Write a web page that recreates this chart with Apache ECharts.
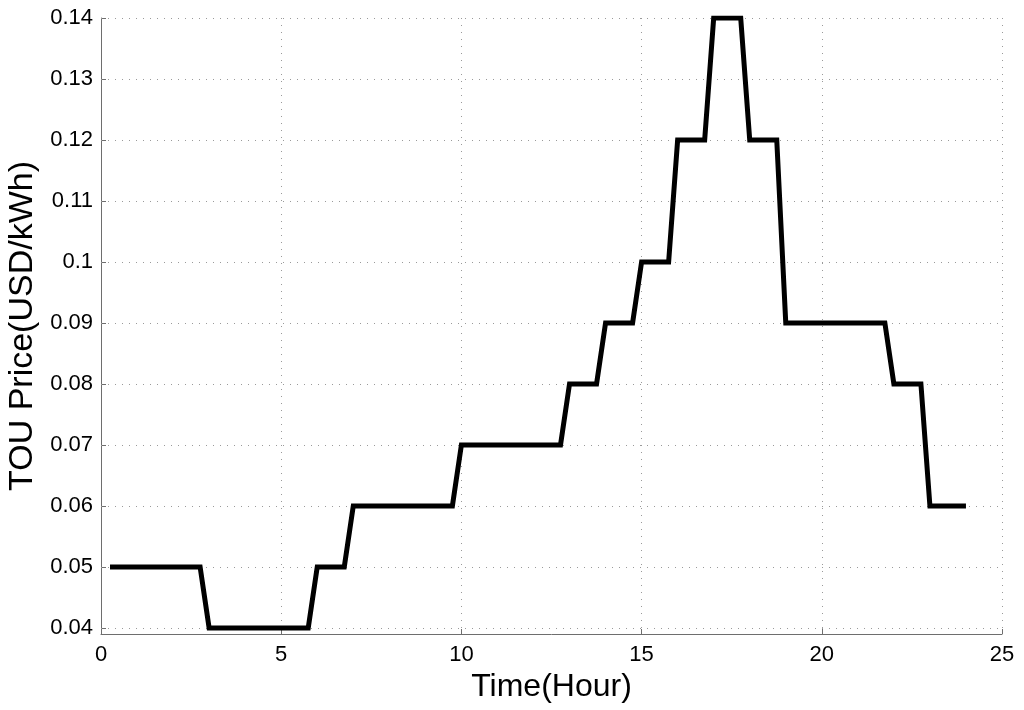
<!DOCTYPE html>
<html>
<head>
<meta charset="utf-8">
<script src="https://cdn.jsdelivr.net/npm/echarts@6/dist/echarts.min.js"></script>
<style>
  html, body { margin: 0; padding: 0; background: #fff; }
  #main { width: 1024px; height: 710px; }
</style>
</head>
<body>
<div id="main"></div>
<script>
'use strict'
// corner points of the TOU price step curve (hour, USD/kWh)
var hours = [0.25, 2.75, 3, 5.75, 6, 6.75, 7, 9.75, 10, 12.75, 13, 13.75, 14, 14.75,
  15, 15.75, 16, 16.75, 17, 17.75, 18, 18.75, 19, 21.75, 22, 22.75, 23, 24]
var prices = [0.05, 0.05, 0.04, 0.04, 0.05, 0.05, 0.06, 0.06, 0.07, 0.07, 0.08, 0.08, 0.09, 0.09,
  0.1, 0.1, 0.12, 0.12, 0.14, 0.14, 0.12, 0.12, 0.09, 0.09, 0.08, 0.08, 0.06, 0.06]
var yTicks = [0.04, 0.05, 0.06, 0.07, 0.08, 0.09, 0.1, 0.11, 0.12, 0.13, 0.14]

var font = 'Liberation Sans, Arial, sans-serif'
var gridColor = '#9a9a9a'
var axisColor = '#6e6e6e'

var points = hours.map(function(h, i) { return [h, prices[i]] })

var chart = echarts.init(document.getElementById('main'))
var option = {
  backgroundColor: '#fff',
  animation: false,
  grid: { left: 101, right: 22, top: 18, bottom: 76, containLabel: false, outerBoundsMode: 'none' },
  xAxis: {
    type: 'value',
    min: 0,
    max: 25,
    interval: 5,
    name: 'Time(Hour)',
    nameLocation: 'middle',
    nameGap: 30,
    nameTextStyle: { fontFamily: font, fontSize: 32, color: '#000' },
    axisLine: { show: true, onZero: false, lineStyle: { color: axisColor, width: 1 } },
    axisTick: { show: true, inside: true, length: 5, lineStyle: { color: axisColor } },
    axisLabel: { fontFamily: font, fontSize: 22, color: '#000', margin: 10 },
    splitLine: { show: true, lineStyle: { color: gridColor, type: [1, 6], width: 1 } }
  },
  yAxis: {
    type: 'value',
    min: 0.039,
    max: 0.14,
    name: 'TOU Price(USD/kWh)',
    nameLocation: 'middle',
    nameGap: 57,
    nameTextStyle: { fontFamily: font, fontSize: 34, color: '#000' },
    axisLine: { show: true, onZero: false, lineStyle: { color: axisColor, width: 1 } },
    axisTick: { show: true, inside: true, length: 5, customValues: yTicks, lineStyle: { color: axisColor } },
    axisLabel: {
      fontFamily: font,
      fontSize: 22,
      color: '#000',
      margin: 8,
      customValues: yTicks,
      formatter: function(v) { return String(+v.toFixed(2)) }
    },
    splitLine: { show: false }
  },
  series: [
    {
      // helper series, only carries the dotted horizontal grid lines
      type: 'line',
      data: points,
      z: 1,
      symbol: 'none',
      silent: true,
      lineStyle: { opacity: 0 },
      markLine: {
        z: 1,
        silent: true,
        symbol: 'none',
        label: { show: false },
        lineStyle: { color: gridColor, type: [1, 6], width: 1 },
        data: yTicks.map(function(v) { return { yAxis: v } })
      }
    },
    {
      type: 'line',
      data: points,
      z: 10,
      symbol: 'none',
      lineStyle: { color: '#000', width: 5, join: 'miter' }
    }
  ]
}
chart.setOption(option)
</script>
</body>
</html>
